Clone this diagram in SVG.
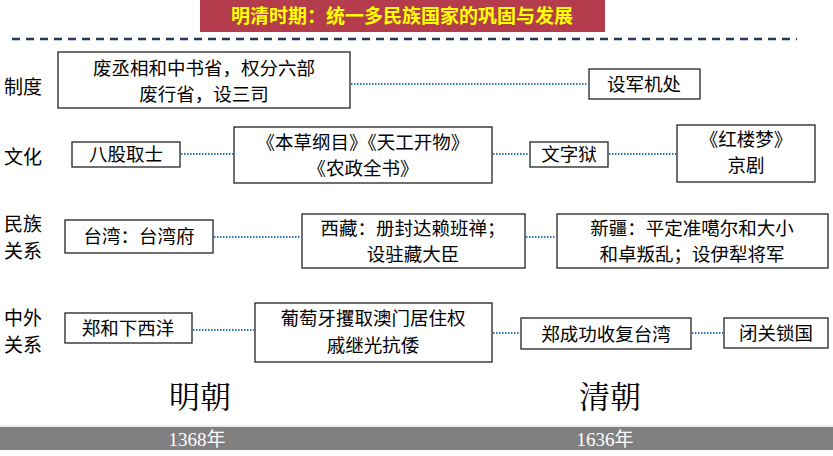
<svg xmlns="http://www.w3.org/2000/svg" width="833" height="456" viewBox="0 0 833 456">
<style>
.b{fill:#fff;stroke:#222;stroke-width:1.3}
.t{font-family:"Noto Sans CJK SC",sans-serif;font-size:18.5px;fill:#000;text-anchor:middle}
.l{font-family:"Noto Sans CJK SC",sans-serif;font-size:19px;fill:#000}
.c{stroke:#2e75b6;stroke-width:2;stroke-dasharray:1.5 1.5;fill:none}
</style>
<rect width="833" height="456" fill="#fff"/>
<g id="title"><rect x="200" y="0" width="405" height="32" fill="#b43c4c"/>
<text x="402" y="23" class="t" style="fill:#ffff00;font-size:19px;font-weight:bold">明清时期：统一多民族国家的巩固与发展</text></g>
<line x1="12" y1="39" x2="797" y2="39" stroke="#1f3864" stroke-width="2.5" stroke-dasharray="8 6"/>
<g id="labels">
<text x="4" y="94" class="l">制度</text>
<text x="4" y="164" class="l">文化</text>
<text x="4" y="231" class="l">民族</text><text x="4" y="258" class="l">关系</text>
<text x="4" y="325" class="l">中外</text><text x="4" y="352" class="l">关系</text>
</g>
<g id="connectors">
<line class="c" x1="351" y1="84" x2="588" y2="84"/>
<line class="c" x1="181" y1="154" x2="233" y2="154"/>
<line class="c" x1="493" y1="154" x2="529" y2="154"/>
<line class="c" x1="609" y1="154" x2="676" y2="154"/>
<line class="c" x1="214" y1="237" x2="301" y2="237"/>
<line class="c" x1="526" y1="237" x2="556" y2="237"/>
<line class="c" x1="193" y1="330" x2="254" y2="330"/>
<line class="c" x1="493" y1="333" x2="520" y2="333"/>
<line class="c" x1="692" y1="333" x2="723" y2="333"/>
</g>
<g id="n1"><rect class="b" x="58" y="52" width="292" height="56"/><text class="t" x="204" y="75">废丞相和中书省，权分六部</text><text class="t" x="204" y="101">废行省，设三司</text></g>
<g id="n2"><rect class="b" x="589" y="69" width="111" height="30"/><text class="t" x="644" y="91">设军机处</text></g>
<g id="n3"><rect class="b" x="72" y="142" width="108" height="25"/><text class="t" x="126" y="161">八股取士</text></g>
<g id="n4"><rect class="b" x="234" y="127" width="258" height="56"/><text class="t" x="363" y="149">《本草纲目》《天工开物》</text><text class="t" x="363" y="175">《农政全书》</text></g>
<g id="n5"><rect class="b" x="530" y="142" width="78" height="25"/><text class="t" x="569" y="161">文字狱</text></g>
<g id="n6"><rect class="b" x="677" y="125" width="138" height="57"/><text class="t" x="746" y="146">《红楼梦》</text><text class="t" x="746" y="172">京剧</text></g>
<g id="n7"><rect class="b" x="65" y="220" width="148" height="33"/><text class="t" x="139" y="243">台湾：台湾府</text></g>
<g id="n8"><rect class="b" x="302" y="214" width="223" height="54"/><text class="t" x="413" y="235">西藏：册封达赖班禅；</text><text class="t" x="413" y="261">设驻藏大臣</text></g>
<g id="n9"><rect class="b" x="557" y="214" width="271" height="54"/><text class="t" x="692" y="235">新疆：平定准噶尔和大小</text><text class="t" x="692" y="261">和卓叛乱；设伊犁将军</text></g>
<g id="n10"><rect class="b" x="65" y="313" width="127" height="30"/><text class="t" x="128" y="335">郑和下西洋</text></g>
<g id="n11"><rect class="b" x="255" y="303" width="237" height="59"/><text class="t" x="373" y="325">葡萄牙攫取澳门居住权</text><text class="t" x="373" y="352">戚继光抗倭</text></g>
<g id="n12"><rect class="b" x="521" y="318" width="170" height="31"/><text class="t" x="606" y="341">郑成功收复台湾</text></g>
<g id="n13"><rect class="b" x="724" y="318" width="104" height="30"/><text class="t" x="776" y="340">闭关锁国</text></g>
<g id="era">
<text x="200" y="408" class="t" style="font-size:31px;font-family:'Noto Serif CJK SC','Noto Sans CJK SC',serif">明朝</text>
<text x="610" y="408" class="t" style="font-size:31px;font-family:'Noto Serif CJK SC','Noto Sans CJK SC',serif">清朝</text>
<rect x="0" y="427" width="833" height="23" fill="#808080"/>
<line x1="0" y1="426" x2="833" y2="426" stroke="#d9d9d9"/>
<text x="197" y="446" class="t" style="fill:#fff;font-family:'Liberation Serif','Noto Sans CJK SC',serif;font-size:19px">1368年</text>
<text x="605" y="446" class="t" style="fill:#fff;font-family:'Liberation Serif','Noto Sans CJK SC',serif;font-size:19px">1636年</text>
</g>
</svg>
